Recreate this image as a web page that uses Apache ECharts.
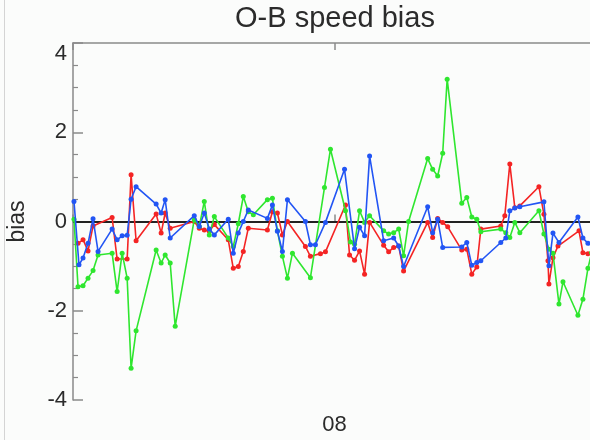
<!DOCTYPE html>
<html>
<head>
<meta charset="utf-8">
<script src="https://cdn.jsdelivr.net/npm/echarts@6/dist/echarts.min.js"></script>
<style>
html,body{margin:0;padding:0;background:#fbfcfb;}
#chart{width:590px;height:440px;}
</style>
</head>
<body>
<div id="chart"></div>
<script>
// x values: hours since day 07 00Z; the single labelled tick is day "08"
const xTickValues = [24];
const xTickLabels = ['08'];
const yTickValues = [-4, -2, 0, 2, 4];

const redSeries = [
  [0.46,-0.49],[0.92,-0.41],[1.38,-0.66],[1.84,-0.10],[3.59,0.09],[4.05,-0.84],[4.97,-0.84],[5.33,1.05],[5.79,-0.43],
  [7.63,0.17],[8.09,-0.26],[8.46,0.19],[8.92,-0.15],[11.13,0.0],[11.59,-0.15],[12.05,-0.19],[12.51,-0.22],[12.97,-0.07],
  [14.25,-0.41],[14.71,-1.05],[15.17,-1.01],[15.63,-0.67],[16.09,-0.15],[17.84,-0.19],[18.30,0.22],[18.76,0.19],
  [19.22,-0.30],[19.68,0.0],[21.33,-0.56],[21.79,-0.78],[22.71,-0.72],[23.17,-0.68],[25.01,0.37],[25.38,-0.75],
  [25.84,-0.87],[26.30,-0.66],[26.76,-1.18],[27.22,-0.02],[28.51,-0.53],[28.97,-0.68],[29.43,-0.58],[29.89,-0.55],
  [30.34,-1.11],[32.55,-0.02],[33.01,-0.36],[33.47,0.07],[33.93,-0.02],[34.39,-0.12],[35.68,-0.64],[36.14,-0.62],
  [36.60,-1.18],[37.06,-1.02],[37.43,-0.17],[39.26,-0.10],[39.63,0.13],[40.09,1.29],[40.55,0.31],[41.01,0.35],
  [42.76,0.78],[43.22,0.16],[43.59,-0.88],[43.68,-1.40],[44.05,-0.81],[44.51,-0.55],[46.44,-0.21],[46.80,-0.70],[47.26,-0.72]
];

const blueSeries = [
  [0.09,0.45],[0.55,-0.97],[0.92,-0.82],[1.38,-0.49],[1.84,0.06],[2.30,-0.67],[3.59,-0.17],[4.05,-0.41],[4.51,-0.32],
  [4.97,-0.31],[5.33,0.50],[5.79,0.78],[7.63,0.39],[8.09,0.19],[8.46,0.49],[8.92,-0.37],[11.13,0.13],[11.59,-0.11],
  [12.05,0.19],[12.51,-0.17],[12.97,-0.30],[14.25,0.05],[14.71,-0.71],[15.17,-0.26],[15.63,0.0],[16.09,0.26],
  [17.84,0.07],[18.30,0.37],[18.76,-0.22],[19.22,-0.67],[19.68,0.49],[21.33,0.0],[21.79,-0.52],[22.25,-0.52],
  [23.17,-0.02],[24.92,1.17],[25.84,-0.61],[26.30,-0.13],[26.76,-0.32],[27.22,1.47],[28.51,-0.43],[29.43,-0.37],
  [29.89,-0.55],[30.34,-1.01],[32.55,0.33],[33.01,-0.25],[33.47,0.05],[33.93,-0.58],[35.68,-0.57],[36.14,-0.47],
  [36.60,-0.98],[37.06,-0.92],[37.43,-0.88],[39.26,-0.47],[39.72,-0.37],[40.09,0.24],[40.55,0.30],[41.01,0.33],
  [43.22,0.44],[43.68,-0.99],[44.05,-0.26],[44.60,-0.47],[46.34,0.10],[46.80,-0.37],[47.26,-0.49]
];

const greenSeries = [
  [0.09,0.05],[0.46,-1.46],[0.92,-1.44],[1.38,-1.27],[1.84,-1.10],[2.30,-0.75],[3.59,-0.71],[4.05,-1.57],[4.51,-0.71],
  [4.97,-1.27],[5.33,-3.29],[5.79,-2.45],[7.63,-0.64],[8.09,-0.93],[8.46,-0.75],[8.92,-0.93],[9.38,-2.35],[11.13,0.04],
  [11.59,-0.11],[12.05,0.45],[12.51,-0.30],[12.97,0.11],[14.25,-0.37],[14.71,-0.56],[15.17,-0.05],[15.63,0.56],
  [16.09,0.22],[16.55,0.15],[17.84,0.49],[18.30,0.52],[18.76,-0.21],[19.22,-0.78],[19.68,-1.27],[20.14,-0.71],
  [21.79,-1.26],[23.08,0.76],[23.63,1.62],[25.01,0.24],[25.47,-0.46],[25.84,-0.51],[26.30,0.24],[26.76,-0.02],
  [27.22,0.13],[28.51,-0.21],[28.97,-0.28],[29.43,-0.25],[29.89,-0.17],[30.34,-0.77],[30.80,0.0],[32.55,1.41],
  [33.01,1.17],[33.47,1.02],[33.93,1.53],[34.34,3.19],[35.68,0.41],[36.14,0.54],[36.60,0.10],[37.06,0.05],
  [37.43,-0.23],[39.26,-0.17],[39.72,-0.25],[40.09,-0.36],[40.55,-0.02],[41.01,-0.25],[42.76,0.24],[43.22,-0.28],
  [43.68,-0.62],[44.05,-0.71],[44.60,-1.85],[44.97,-1.35],[46.34,-2.10],[46.80,-1.74],[47.26,-1.05],[47.60,-0.70]
];

const FONT = 'Liberation Sans, Arial, Helvetica, sans-serif';
const TEXT = '#2b2b2b';
const FRAME = '#8a8a8a';

const chart = echarts.init(document.getElementById('chart'), null, {renderer: 'canvas'});

function mkSeries(data, color, z) {
  return {
    type: 'line',
    data: data,
    z: z,
    symbol: 'circle',
    symbolSize: 5,
    showSymbol: true,
    clip: true,
    animation: false,
    itemStyle: {color: color},
    lineStyle: {color: color, width: 1.6}
  };
}

const series = [
  mkSeries(redSeries, '#f42424', 3),
  mkSeries(greenSeries, '#2fe62f', 4),
  mkSeries(blueSeries, '#2255f4', 5)
];
series[0].markLine = {
  silent: true,
  symbol: ['none', 'none'],
  label: {show: false},
  z: 2,
  lineStyle: {color: '#222', width: 2, type: 'solid'},
  data: [{yAxis: 0}]
};

chart.setOption({
  backgroundColor: '#fbfcfb',
  animation: false,
  title: {
    text: 'O-B speed bias',
    left: 335,
    top: 4,
    padding: 0,
    textAlign: 'center',
    textStyle: {fontFamily: FONT, fontSize: 29, fontWeight: 'normal', color: TEXT}
  },
  graphic: [{
    type: 'line',
    shape: {x1: 4.5, y1: 0, x2: 4.5, y2: 440},
    style: {stroke: '#d4d4d4', lineWidth: 1},
    silent: true
  }],
  grid: {left: 73, right: -6, top: 43, bottom: 40, containLabel: false, outerBoundsMode: 'none'},
  xAxis: [{
    type: 'value',
    position: 'bottom',
    min: 0, max: 48, interval: 24,
    axisLine: {show: true, lineStyle: {color: FRAME, width: 1.5}},
    axisTick: {show: true, inside: true, length: 7, lineStyle: {color: FRAME, width: 1.5}},
    axisLabel: {
      show: true, margin: 14, color: TEXT, fontFamily: FONT, fontSize: 22,
      formatter: function (v) { const i = xTickValues.indexOf(v); return i >= 0 ? xTickLabels[i] : ''; }
    },
    splitLine: {show: false}
  }, {
    type: 'value',
    position: 'top',
    min: 0, max: 48, interval: 24,
    axisLine: {show: true, lineStyle: {color: FRAME, width: 1.5}},
    axisTick: {show: true, inside: true, length: 7, lineStyle: {color: FRAME, width: 1.5}},
    axisLabel: {show: false},
    splitLine: {show: false}
  }],
  yAxis: {
    type: 'value',
    min: yTickValues[0], max: yTickValues[yTickValues.length - 1], interval: 2,
    name: 'bias',
    nameLocation: 'middle',
    nameRotate: 90,
    nameGap: 44,
    nameTextStyle: {fontFamily: FONT, fontSize: 23, color: TEXT},
    axisLine: {show: true, lineStyle: {color: FRAME, width: 1.5}},
    axisTick: {show: true, inside: true, length: 10, lineStyle: {color: FRAME, width: 1.5}},
    minorTick: {show: true, splitNumber: 4, length: 5, lineStyle: {color: FRAME, width: 1.2}},
    axisLabel: {show: true, margin: 6, color: TEXT, fontFamily: FONT, fontSize: 22, verticalAlignMaxLabel: 'top'},
    splitLine: {show: false}
  },
  series: series
});
</script>
</body>
</html>
